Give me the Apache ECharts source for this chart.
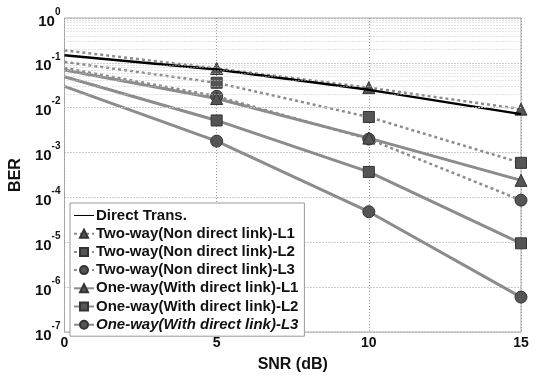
<!DOCTYPE html>
<html><head><meta charset="utf-8">
<script src="https://cdn.jsdelivr.net/npm/echarts@6/dist/echarts.min.js"></script>
<style>html,body{margin:0;padding:0;background:#fff}#c{width:539px;height:378px}</style>
</head><body><div id="c"></div>
<script>
const snr = [0, 5, 10, 15];
const directTrans = [0.148, 0.071, 0.025, 0.0072];
const twoWayL1 = [0.19, 0.075, 0.028, 0.0093];
const twoWayL2 = [0.105, 0.036, 0.0062, 0.00059];
const twoWayL3 = [0.077, 0.018, 0.002, 0.000087];
const oneWayL1 = [0.069, 0.016, 0.0021, 0.00024];
const oneWayL2 = [0.049, 0.0052, 0.00037, 0.0000095];
const oneWayL3 = [0.03, 0.0018, 0.000048, 0.0000006];
const xTicks = [0, 5, 10, 15];
const names = ['Direct Trans.', 'Two-way(Non direct link)-L1', 'Two-way(Non direct link)-L2',
  'Two-way(Non direct link)-L3', 'One-way(With direct link)-L1', 'One-way(With direct link)-L2',
  'One-way(With direct link)-L3'];

const FONT = 'Liberation Sans, Arial, sans-serif';
const GRAY = '#8c8c8c';
const MARK = '#555';

function pts(arr, marked) {
  return arr.map((v, i) => marked && snr[i] !== 0 ? [snr[i], v] : { value: [snr[i], v], symbol: 'none' });
}
function mk(name, arr, opts) {
  return {
    name: name, type: 'line', data: pts(arr, opts.symbol !== 'none'),
    symbol: opts.symbol, symbolSize: opts.size || 11, showSymbol: opts.symbol !== 'none',
    lineStyle: { color: opts.color || GRAY, width: opts.width || 3, type: opts.type || 'solid' },
    itemStyle: { color: opts.symbol === 'none' ? (opts.color || GRAY) : MARK, borderColor: '#333', borderWidth: 1 },
    z: opts.z || 3, animation: false
  };
}
// minor log grid lines
const minor = [];
for (let e = -7; e < 0; e++) for (let k = 2; k <= 9; k++) minor.push({ yAxis: k * Math.pow(10, e) });

const series = [
  mk(names[0], directTrans, { symbol: 'none', color: '#000', width: 2.5, z: 4 }),
  mk(names[1], twoWayL1, { symbol: 'triangle', type: [3, 3], width: 2.5, size: 12 }),
  mk(names[2], twoWayL2, { symbol: 'rect', type: [3, 3], width: 2.5, size: 11 }),
  mk(names[3], twoWayL3, { symbol: 'circle', type: [3, 3], width: 2.5, size: 12 }),
  mk(names[4], oneWayL1, { symbol: 'triangle', size: 12 }),
  mk(names[5], oneWayL2, { symbol: 'rect', size: 11 }),
  mk(names[6], oneWayL3, { symbol: 'circle', size: 12 }),
  { type: 'line', data: [], silent: true, z: 1,
    markLine: { silent: true, symbol: 'none', animation: false, label: { show: false },
      lineStyle: { color: '#c8c8c8', type: [1, 2], width: 1 }, data: minor } }
];

const legendData = names.map((n, i) => i === 0
  ? { name: n, icon: 'path://M0,4.5 L20,4.5 L20,5.5 L0,5.5 Z', itemStyle: { color: '#000', borderWidth: 0 } }
  : { name: n });

const chart = echarts.init(document.getElementById('c'));
chart.setOption({
  animation: false,
  backgroundColor: '#fff',
  grid: { left: 62, right: 18, top: 18, bottom: 40, show: true, borderColor: '#aaa', borderWidth: 1 },
  xAxis: {
    type: 'value', min: 0, max: 15, interval: 5,
    name: 'SNR (dB)', nameLocation: 'middle', nameGap: 25,
    nameTextStyle: { fontFamily: FONT, fontSize: 16, fontWeight: 'bold', color: '#111' },
    axisLine: { show: false }, axisTick: { show: false },
    axisLabel: { fontFamily: FONT, fontSize: 14, fontWeight: 'bold', color: '#111', margin: 4,
      formatter: v => xTicks.includes(v) ? String(v) : '' },
    splitLine: { show: true, lineStyle: { color: '#999', type: [1, 2] } }
  },
  yAxis: {
    type: 'log', logBase: 10, min: 1e-7, max: 1,
    name: 'BER', nameLocation: 'middle', nameGap: 36,
    nameTextStyle: { fontFamily: FONT, fontSize: 16, fontWeight: 'bold', color: '#111' },
    axisLine: { show: false }, axisTick: { show: false },
    axisLabel: { margin: 4, color: '#111',
      formatter: v => '{a|10}{b|' + Math.round(Math.log10(v)) + '}',
      rich: {
        a: { fontFamily: FONT, fontSize: 15, fontWeight: 'bold', color: '#111', lineHeight: 22, verticalAlign: 'bottom' },
        b: { fontFamily: FONT, fontSize: 10, fontWeight: 'bold', color: '#111', lineHeight: 22, verticalAlign: 'top' }
      } },
    splitLine: { show: true, lineStyle: { color: '#999', type: [1, 2] } }
  },
  legend: {
    orient: 'vertical', left: 70, top: 203, data: legendData,
    itemWidth: 20, itemHeight: 10, itemGap: 3.2, padding: [5, 6, 4, 3],
    backgroundColor: '#fff', borderColor: '#999', borderWidth: 1,
    textStyle: { fontFamily: FONT, fontSize: 15, fontWeight: 'bold', color: '#111', lineHeight: 15, padding: [0, 0, 0, -3],
      rich: { i: { fontFamily: FONT, fontSize: 15, fontWeight: 'bold', fontStyle: 'italic', color: '#111', lineHeight: 15 } } },
    formatter: n => n === names[6] ? '{i|' + n + '}' : n
  },
  series: series
});
</script></body></html>
